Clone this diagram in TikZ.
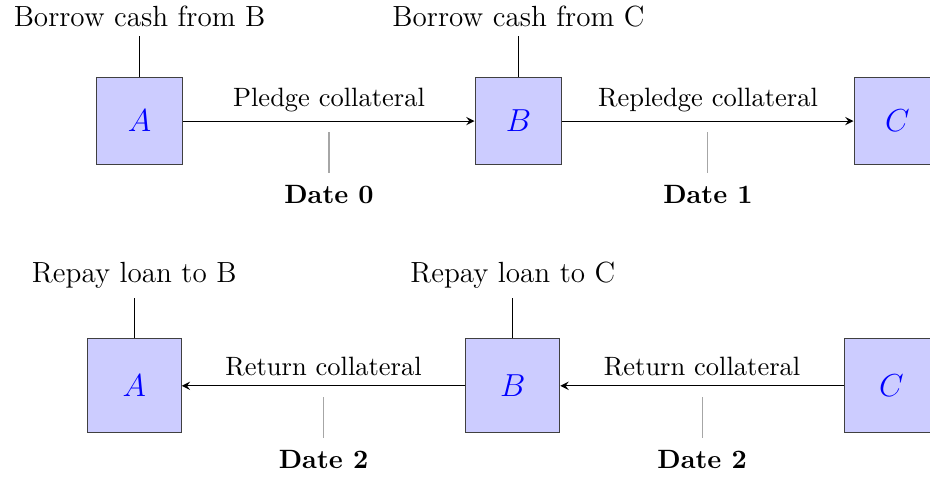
\documentclass[tikz,border=0pt]{standalone}
\usepackage{tikz}
\usetikzlibrary{arrows.meta,positioning,calc}

\begin{document}
\begin{tikzpicture}[
  box/.style={draw=black!75,fill=blue!20,minimum size=1.15cm,text=blue,font=\large},
  bigbox/.style={box,minimum size=1.245cm},
  flow/.style={-stealth,draw=black},
  tick/.style={draw=black!35},
  toplbl/.style={above,font=\fontsize{11}{13}\selectfont},
  datelbl/.style={below,font=\bfseries,yshift=-1pt}]
  \useasboundingbox (-1.85,1.605) rectangle (10.48,-4.71);
  % date 0 and 1: pledge and repledge
  \node[box] (lendA) at (0,0) {$A$};
  \node[box,right=3.86cm of lendA] (lendB) {$B$};
  \node[box,right=3.86cm of lendB] (lendC) {$C$};
  \draw[flow] (lendA) -- node[above] {Pledge collateral} (lendB);
  \draw[flow] (lendB) -- node[above] {Repledge collateral} (lendC);
  \draw (lendA.north) -- ++(0,0.54) node[toplbl] {Borrow cash from B};
  \draw (lendB.north) -- ++(0,0.54) node[toplbl] {Borrow cash from C};
  \draw[tick] ($(lendA.east)!0.5!(lendB.west)+(0,-0.15)$) -- ++(0,-0.54) node[datelbl] {Date 0};
  \draw[tick] ($(lendB.east)!0.5!(lendC.west)+(0,-0.15)$) -- ++(0,-0.54) node[datelbl] {Date 1};
  % date 2: unwind
  \node[bigbox] (backA) at (-0.07,-3.51) {$A$};
  \node[bigbox,right=3.76cm of backA] (backB) {$B$};
  \node[bigbox,right=3.76cm of backB] (backC) {$C$};
  \draw[flow] (backB) -- node[above] {Return collateral} (backA);
  \draw[flow] (backC) -- node[above] {Return collateral} (backB);
  \draw (backA.north) -- ++(0,0.54) node[toplbl] {Repay loan to B};
  \draw (backB.north) -- ++(0,0.54) node[toplbl] {Repay loan to C};
  \draw[tick] ($(backA.east)!0.5!(backB.west)+(0,-0.15)$) -- ++(0,-0.54) node[datelbl] {Date 2};
  \draw[tick] ($(backB.east)!0.5!(backC.west)+(0,-0.15)$) -- ++(0,-0.54) node[datelbl] {Date 2};
\end{tikzpicture}
\end{document}
